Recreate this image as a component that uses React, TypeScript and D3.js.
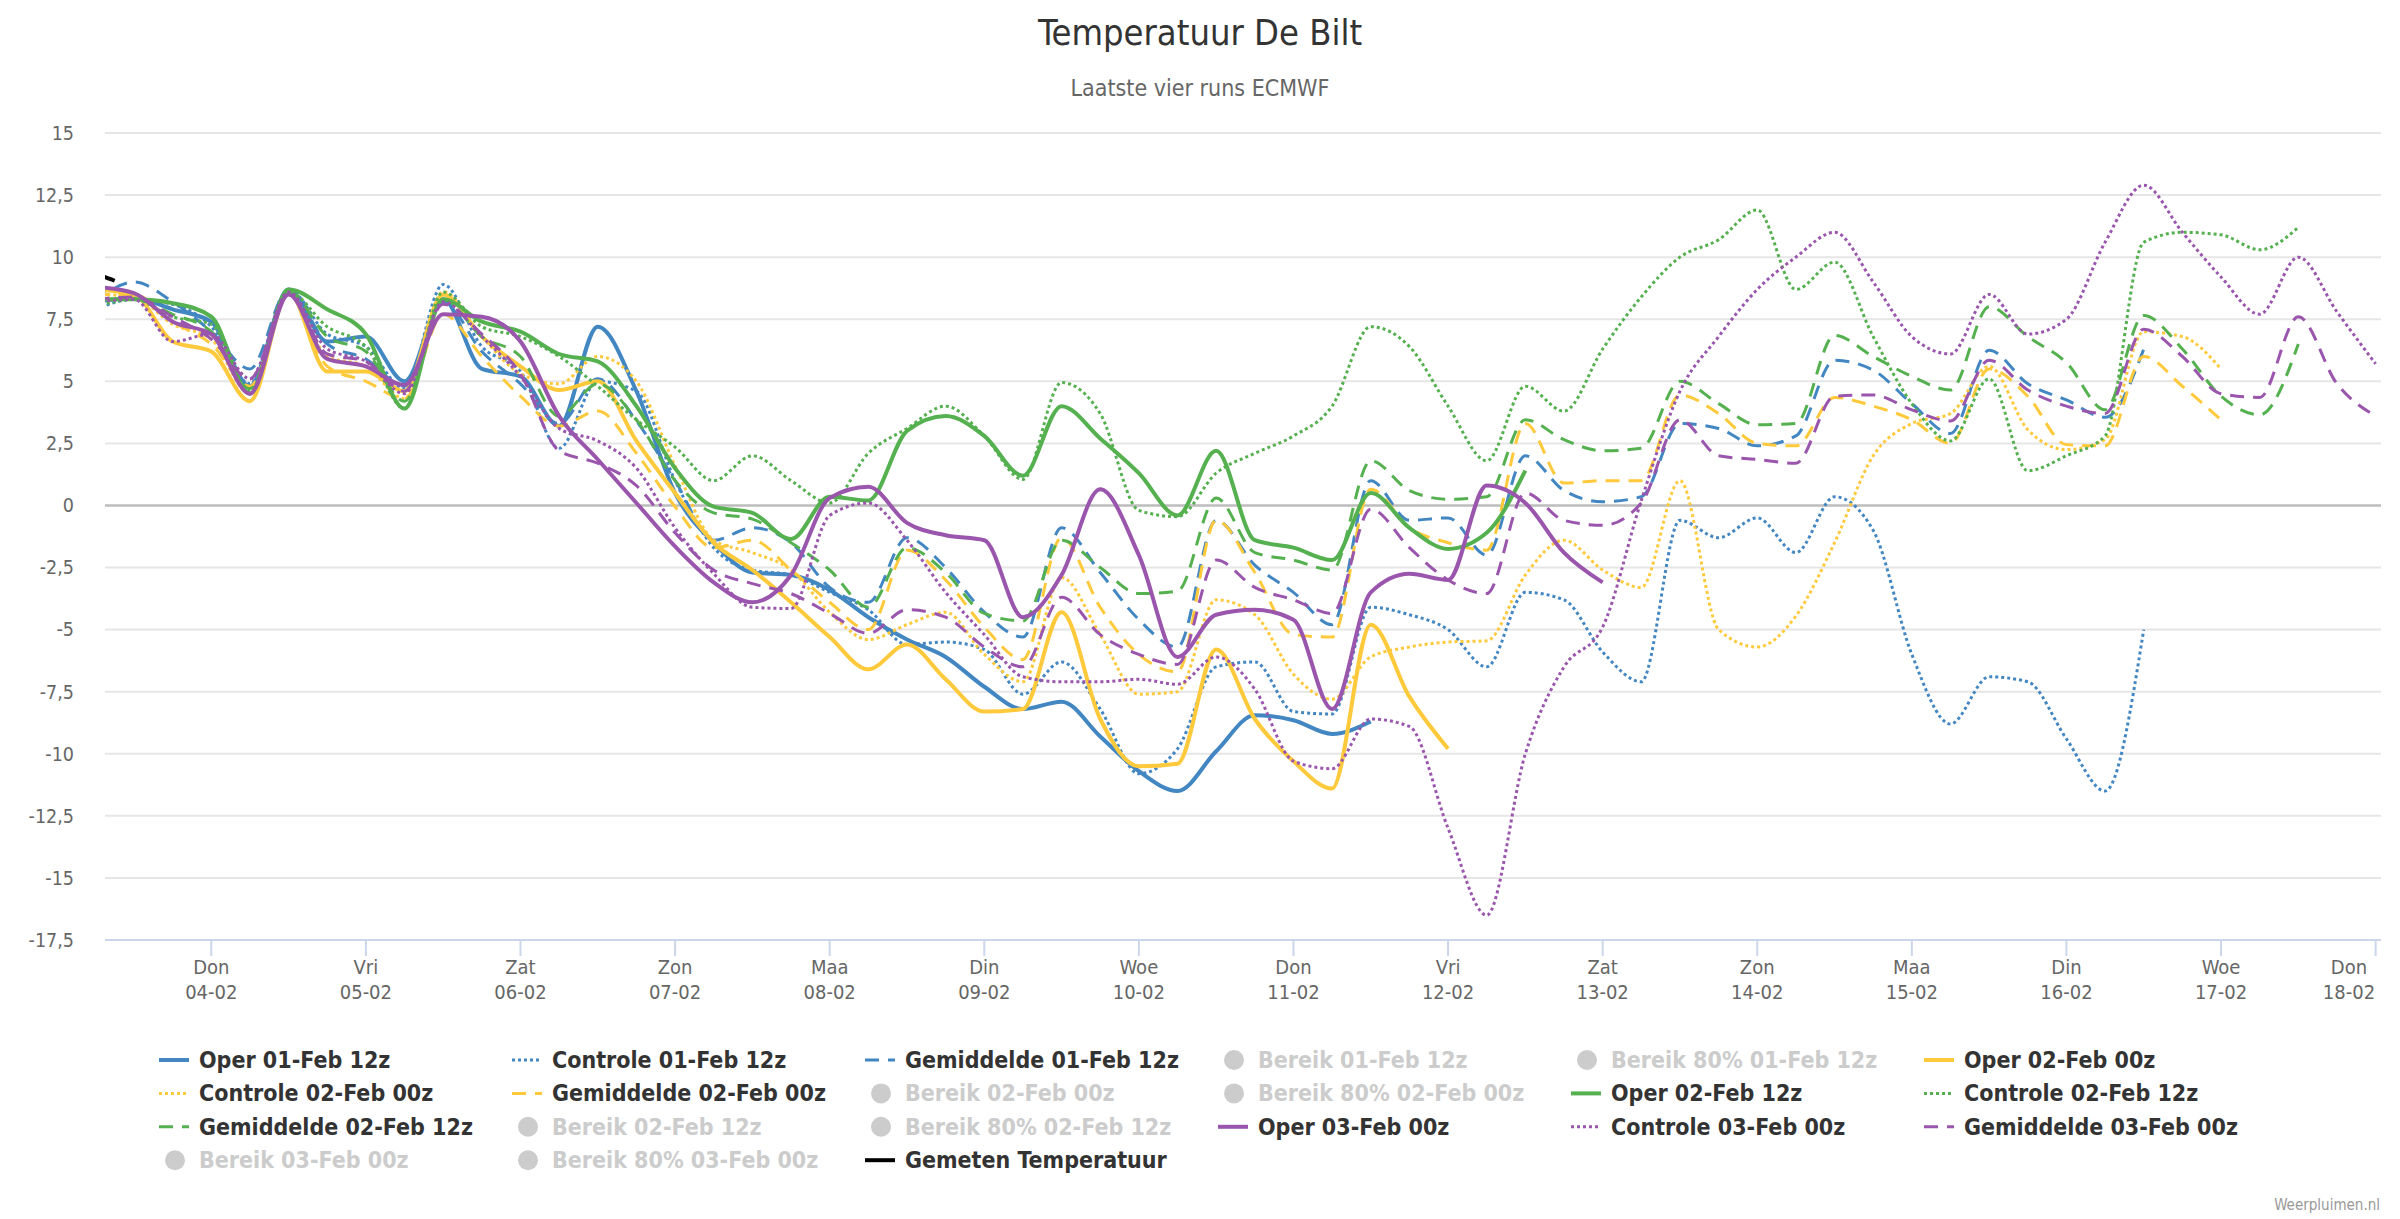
import React from 'react';
import * as d3 from 'd3';

// ---- data (6-hourly values, first value at 03-02 06z) ----
const firstValueTime = Date.UTC(2021, 1, 3, 6);
const stepMs = 6 * 3600 * 1000;

const operFeb01_12z = [8.2, 8.35, 7.9, 7.4, 4.8, 8.7, 6.6, 6.8, 5.0, 8.3, 5.5, 5.2, 3.2, 7.2, 4.6, 0.5, -1.5, -2.7, -2.8, -3.4,
  -4.5, -5.4, -6.1, -7.3, -8.2, -7.9, -9.3, -10.7, -11.5, -9.9, -8.45, -8.65, -9.2, -8.7];
const controleFeb01_12z = [7.9, 8.3, 8.1, 7.2, 4.9, 8.7, 6.9, 6.4, 4.7, 8.9, 6.4, 5.4, 2.3, 5.0, 4.6, 1.0, -1.7, -2.6, -2.8, -3.5,
  -4.2, -5.6, -5.5, -5.8, -7.6, -6.3, -8.2, -10.8, -9.8, -6.5, -6.3, -8.3, -8.4, -4.1, -4.4, -5.0, -6.5, -3.5, -3.8, -5.9,
  -7.1, -0.6, -1.3, -0.5, -1.9, 0.35, -1.0, -6.0, -8.8, -6.9, -7.1, -9.4, -11.5, -5.0];
const gemiddeldeFeb01_12z = [8.2, 9.0, 8.2, 7.0, 5.5, 8.7, 6.5, 5.9, 4.8, 8.2, 6.2, 4.9, 3.3, 5.1, 3.4, 1.0, -1.4, -0.9, -1.5, -3.3,
  -3.9, -1.3, -2.5, -4.3, -5.3, -0.9, -2.7, -4.6, -5.7, -0.6, -2.4, -3.5, -4.8, 1.0, -0.6, -0.5, -2.0, 2.0, 0.6, 0.15,
  0.35, 3.3, 3.1, 2.4, 2.8, 5.85, 5.45, 4.1, 2.9, 6.25, 4.9, 4.25, 3.55, 6.3];

const operFeb02_00z = [8.7, 8.5, 6.6, 6.2, 4.2, 8.6, 5.4, 5.4, 4.6, 8.5, 6.8, 5.6, 4.65, 5.0, 2.6, 0.5, -1.5, -2.6, -3.9, -5.3,
  -6.6, -5.6, -7.0, -8.3, -8.2, -4.3, -8.6, -10.5, -10.4, -5.8, -8.6, -10.3, -11.4, -4.8, -7.7, -9.8];
const controleFeb02_00z = [8.5, 8.4, 7.3, 6.7, 4.5, 8.5, 6.0, 5.6, 4.3, 8.6, 6.8, 5.3, 4.9, 6.0, 5.0, 1.6, -1.4, -1.9, -2.6, -4.3,
  -5.4, -4.8, -4.3, -6.0, -7.1, -2.9, -5.2, -7.6, -7.5, -3.8, -4.4, -6.8, -7.8, -6.1, -5.7, -5.5, -5.45, -2.8, -1.4, -2.6,
  -3.3, 1.0, -5.0, -5.7, -4.45, -1.5, 2.0, 3.3, 3.7, 5.6, 3.05, 2.25, 2.65, 7.0, 6.8, 5.5];
const gemiddeldeFeb02_00z = [8.5, 8.5, 7.4, 6.5, 4.8, 8.5, 5.6, 5.0, 4.3, 7.7, 6.0, 4.4, 3.2, 3.8, 2.1, -0.05, -1.7, -1.4, -2.6, -3.9,
  -5.0, -1.8, -3.0, -4.9, -6.2, -1.3, -4.1, -6.0, -6.7, -0.6, -2.7, -5.2, -5.3, 0.65, -0.9, -1.5, -1.8, 3.3, 0.9, 1.0,
  1.0, 4.45, 3.7, 2.5, 2.4, 4.35, 4.0, 3.45, 2.5, 5.5, 4.4, 2.45, 2.4, 6.0, 4.8, 3.45];

const operFeb02_12z = [8.3, 8.3, 8.15, 7.6, 4.5, 8.7, 7.9, 6.9, 3.9, 8.3, 7.4, 7.0, 6.1, 5.8, 4.0, 1.5, -0.05, -0.3, -1.35, 0.35,
  0.2, 3.0, 3.6, 2.8, 1.2, 4.0, 2.7, 1.3, -0.4, 2.2, -1.4, -1.7, -2.2, 0.5, -0.9, -1.75, -1.1, 1.4];
const controleFeb02_12z = [8.0, 8.3, 7.6, 7.3, 4.6, 8.6, 7.2, 6.4, 3.9, 8.6, 7.2, 6.8, 6.0, 4.8, 3.45, 2.35, 1.0, 2.0, 1.0, 0.1,
  2.1, 3.1, 4.0, 2.8, 1.05, 4.95, 3.7, -0.2, -0.45, 1.3, 2.1, 2.8, 4.0, 7.2, 6.4, 4.0, 1.8, 4.8, 3.8, 6.3,
  8.4, 10.0, 10.7, 11.9, 8.7, 9.8, 6.8, 4.1, 2.6, 5.1, 1.4, 2.0, 2.8, 10.6, 11.0, 10.9, 10.3, 11.2];
const gemiddeldeFeb02_12z = [8.3, 8.3, 7.7, 7.0, 4.7, 8.6, 6.8, 6.2, 4.2, 8.3, 6.8, 6.0, 3.6, 4.9, 3.45, 1.0, -0.3, -0.55, -1.5, -2.6,
  -4.1, -1.7, -2.7, -4.35, -4.65, -1.4, -2.5, -3.55, -3.45, 0.3, -1.9, -2.2, -2.6, 1.8, 0.6, 0.25, 0.35, 3.45, 2.65, 2.2,
  2.3, 5.0, 4.1, 3.25, 3.3, 6.85, 6.0, 5.2, 4.65, 8.0, 6.8, 5.75, 3.85, 7.65, 6.3, 4.4, 3.65, 6.5];

const operFeb03_00z = [8.8, 8.55, 7.4, 6.9, 4.5, 8.5, 5.9, 5.6, 4.85, 7.7, 7.6, 6.6, 3.6, 1.85, 0.1, -1.65, -3.1, -3.9, -2.8, 0.3,
  0.75, -0.7, -1.2, -1.4, -4.5, -2.8, 0.65, -2.0, -6.1, -4.4, -4.2, -4.6, -8.2, -3.5, -2.75, -3.0, 0.8, 0.1, -1.9, -3.1];
const controleFeb03_00z = [8.2, 8.3, 6.6, 6.9, 5.1, 8.6, 6.3, 5.8, 4.5, 8.2, 6.8, 5.2, 3.1, 2.6, 1.5, -0.9, -2.75, -4.1, -4.15, -0.4,
  0.1, -1.4, -3.5, -5.2, -6.9, -7.1, -7.1, -7.0, -7.2, -6.1, -7.4, -10.3, -10.6, -8.6, -8.9, -13.0, -16.5, -10.0, -6.5, -4.9,
  0.2, 4.6, 6.8, 8.7, 10.0, 11.0, 9.0, 6.8, 6.1, 8.5, 6.9, 7.5, 10.6, 12.9, 11.0, 9.2, 7.7, 10.0, 7.8, 5.7];
const gemiddeldeFeb03_00z = [8.3, 8.4, 7.6, 6.7, 5.1, 8.5, 6.1, 5.8, 4.6, 8.1, 6.9, 5.3, 2.2, 1.7, 0.8, -1.1, -2.6, -3.15, -3.55, -4.35,
  -5.15, -4.2, -4.5, -5.7, -6.5, -3.7, -5.2, -6.0, -6.4, -2.2, -3.3, -3.8, -4.35, -0.15, -1.7, -3.0, -3.55, 0.5, -0.6, -0.8,
  0.1, 3.45, 2.0, 1.85, 1.7, 4.4, 4.45, 3.85, 3.4, 5.85, 4.65, 4.0, 3.7, 7.1, 6.0, 4.5, 4.35, 7.6, 4.9, 3.6];

// measured temperature (hourly)
const gemetenTimes = [Date.UTC(2021, 1, 3, 7), Date.UTC(2021, 1, 3, 8), Date.UTC(2021, 1, 3, 9)];
const gemetenValues = [9.25, 9.15, 9.05];

const yTicks = [15, 12.5, 10, 7.5, 5, 2.5, 0, -2.5, -5, -7.5, -10, -12.5, -15, -17.5];
const dayNames = ['Zon', 'Maa', 'Din', 'Woe', 'Don', 'Vri', 'Zat'];

const legendNames = [
  'Oper 01-Feb 12z', 'Controle 01-Feb 12z', 'Gemiddelde 01-Feb 12z', 'Bereik 01-Feb 12z', 'Bereik 80% 01-Feb 12z', 'Oper 02-Feb 00z',
  'Controle 02-Feb 00z', 'Gemiddelde 02-Feb 00z', 'Bereik 02-Feb 00z', 'Bereik 80% 02-Feb 00z', 'Oper 02-Feb 12z', 'Controle 02-Feb 12z',
  'Gemiddelde 02-Feb 12z', 'Bereik 02-Feb 12z', 'Bereik 80% 02-Feb 12z', 'Oper 03-Feb 00z', 'Controle 03-Feb 00z', 'Gemiddelde 03-Feb 00z',
  'Bereik 03-Feb 00z', 'Bereik 80% 03-Feb 00z', 'Gemeten Temperatuur',
];

const BLUE = '#4286c2';
const YELLOW = '#ffc93c';
const GREEN = '#55b04f';
const PURPLE = '#9a55ad';

type Kind = 'solid' | 'dot' | 'dash' | 'hidden';
interface Serie { name: string; values: number[]; color: string; kind: Kind; }

const series: Serie[] = [
  { name: 'Oper 01-Feb 12z', values: operFeb01_12z, color: BLUE, kind: 'solid' },
  { name: 'Controle 01-Feb 12z', values: controleFeb01_12z, color: BLUE, kind: 'dot' },
  { name: 'Gemiddelde 01-Feb 12z', values: gemiddeldeFeb01_12z, color: BLUE, kind: 'dash' },
  { name: 'Oper 02-Feb 00z', values: operFeb02_00z, color: YELLOW, kind: 'solid' },
  { name: 'Controle 02-Feb 00z', values: controleFeb02_00z, color: YELLOW, kind: 'dot' },
  { name: 'Gemiddelde 02-Feb 00z', values: gemiddeldeFeb02_00z, color: YELLOW, kind: 'dash' },
  { name: 'Oper 02-Feb 12z', values: operFeb02_12z, color: GREEN, kind: 'solid' },
  { name: 'Controle 02-Feb 12z', values: controleFeb02_12z, color: GREEN, kind: 'dot' },
  { name: 'Gemiddelde 02-Feb 12z', values: gemiddeldeFeb02_12z, color: GREEN, kind: 'dash' },
  { name: 'Oper 03-Feb 00z', values: operFeb03_00z, color: PURPLE, kind: 'solid' },
  { name: 'Controle 03-Feb 00z', values: controleFeb03_00z, color: PURPLE, kind: 'dot' },
  { name: 'Gemiddelde 03-Feb 00z', values: gemiddeldeFeb03_00z, color: PURPLE, kind: 'dash' },
];

const W = 2400;
const H = 1219;
const plot = { left: 105, right: 2381, top: 133, bottom: 940 };
const FONT = "'DejaVu Sans Condensed', 'DejaVu Sans', sans-serif";

const strokeFor = (k: Kind) => (k === 'solid' ? 4 : 3);
const dashFor = (k: Kind) => (k === 'dot' ? '3 3' : k === 'dash' ? '14 9' : undefined);

export default function App() {
  const x = d3.scaleUtc()
    .domain([new Date(Date.UTC(2021, 1, 3, 7, 30)), new Date(Date.UTC(2021, 1, 18, 0, 50))])
    .range([plot.left, plot.right]);
  const y = d3.scaleLinear().domain([-17.5, 15]).range([plot.bottom, plot.top]);

  const line = d3.line<[number, number]>()
    .x(d => x(d[0]))
    .y(d => y(d[1]))
    .curve(d3.curveMonotoneX);

  const days = d3.utcDay.range(new Date(Date.UTC(2021, 1, 4)), new Date(Date.UTC(2021, 1, 18, 1)));
  const fmt = d3.utcFormat('%d-%m');

  const legendCol = (i: number) => 199 + 353 * (i % 6);
  const legendRow = (i: number) => 1060 + 33.4 * Math.floor(i / 6);

  return (
    <div style={{ position: 'absolute', left: 0, top: 0, background: '#fff' }}>
      <svg width={W} height={H} viewBox={`0 0 ${W} ${H}`} style={{ display: 'block', fontFamily: FONT }}>
        <rect width={W} height={H} fill="#fff" />
        <defs>
          <clipPath id="plot-clip">
            <rect x={plot.left} y={plot.top - 10} width={plot.right - plot.left} height={plot.bottom - plot.top + 10} />
          </clipPath>
        </defs>

        <text x={W / 2} y={45} textAnchor="middle" fontSize={36} fill="#333">Temperatuur De Bilt</text>
        <text x={W / 2} y={96} textAnchor="middle" fontSize={23} fill="#666">Laatste vier runs ECMWF</text>

        {/* grid + y labels */}
        {yTicks.map(v => (
          <g key={v}>
            {v !== -17.5 && (
              <line x1={plot.left} x2={plot.right} y1={y(v)} y2={y(v)}
                stroke={v === 0 ? '#bdbdbd' : '#e6e6e6'} strokeWidth={v === 0 ? 2.5 : 2} />
            )}
            <text x={74} y={y(v)} dy="0.35em" textAnchor="end" fontSize={19.5} fill="#666">
              {String(v).replace('.', ',')}
            </text>
          </g>
        ))}

        {/* x axis */}
        <line x1={plot.left} x2={plot.right} y1={plot.bottom} y2={plot.bottom} stroke="#ccd6eb" strokeWidth={2} />
        {days.map(d => {
          const px = x(d);
          const lx = Math.min(px, 2349);
          return (
            <g key={d.getTime()}>
              <line x1={px} x2={px} y1={plot.bottom} y2={plot.bottom + 16} stroke="#ccd6eb" strokeWidth={2} />
              <text x={lx} y={974} textAnchor="middle" fontSize={20} fill="#666">{dayNames[d.getUTCDay()]}</text>
              <text x={lx} y={999} textAnchor="middle" fontSize={20} fill="#666">{fmt(d)}</text>
            </g>
          );
        })}

        {/* series */}
        <g clipPath="url(#plot-clip)">
          {series.map(s => (
            <path key={s.name}
              d={line(s.values.map((v, i) => [firstValueTime + i * stepMs, v] as [number, number])) || ''}
              fill="none" stroke={s.color} strokeWidth={strokeFor(s.kind)}
              strokeDasharray={dashFor(s.kind)} strokeLinejoin="round" />
          ))}
          <path d={line(gemetenValues.map((v, i) => [gemetenTimes[i], v] as [number, number])) || ''}
            fill="none" stroke="#000" strokeWidth={4} />
        </g>

        {/* legend */}
        {legendNames.map((name, i) => {
          const s = series.find(q => q.name === name);
          const tx = legendCol(i);
          const ty = legendRow(i);
          const hidden = !s && name !== 'Gemeten Temperatuur';
          const color = name === 'Gemeten Temperatuur' ? '#000' : s ? s.color : '#ccc';
          const kind: Kind = s ? s.kind : hidden ? 'hidden' : 'solid';
          return (
            <g key={name}>
              {kind === 'hidden' ? (
                <circle cx={tx - 24} cy={ty} r={10} fill="#ccc" />
              ) : (
                <line x1={tx - 40} x2={tx - 10} y1={ty} y2={ty} stroke={color}
                  strokeWidth={strokeFor(kind)} strokeDasharray={dashFor(kind)} />
              )}
              <text x={tx} y={ty} dy="0.35em" fontSize={23} fontWeight="bold"
                fill={hidden ? '#cccccc' : '#333'}>{name}</text>
            </g>
          );
        })}

        <text x={2380} y={1210} textAnchor="end" fontSize={15} fill="#999">Weerpluimen.nl</text>
      </svg>
    </div>
  );
}
